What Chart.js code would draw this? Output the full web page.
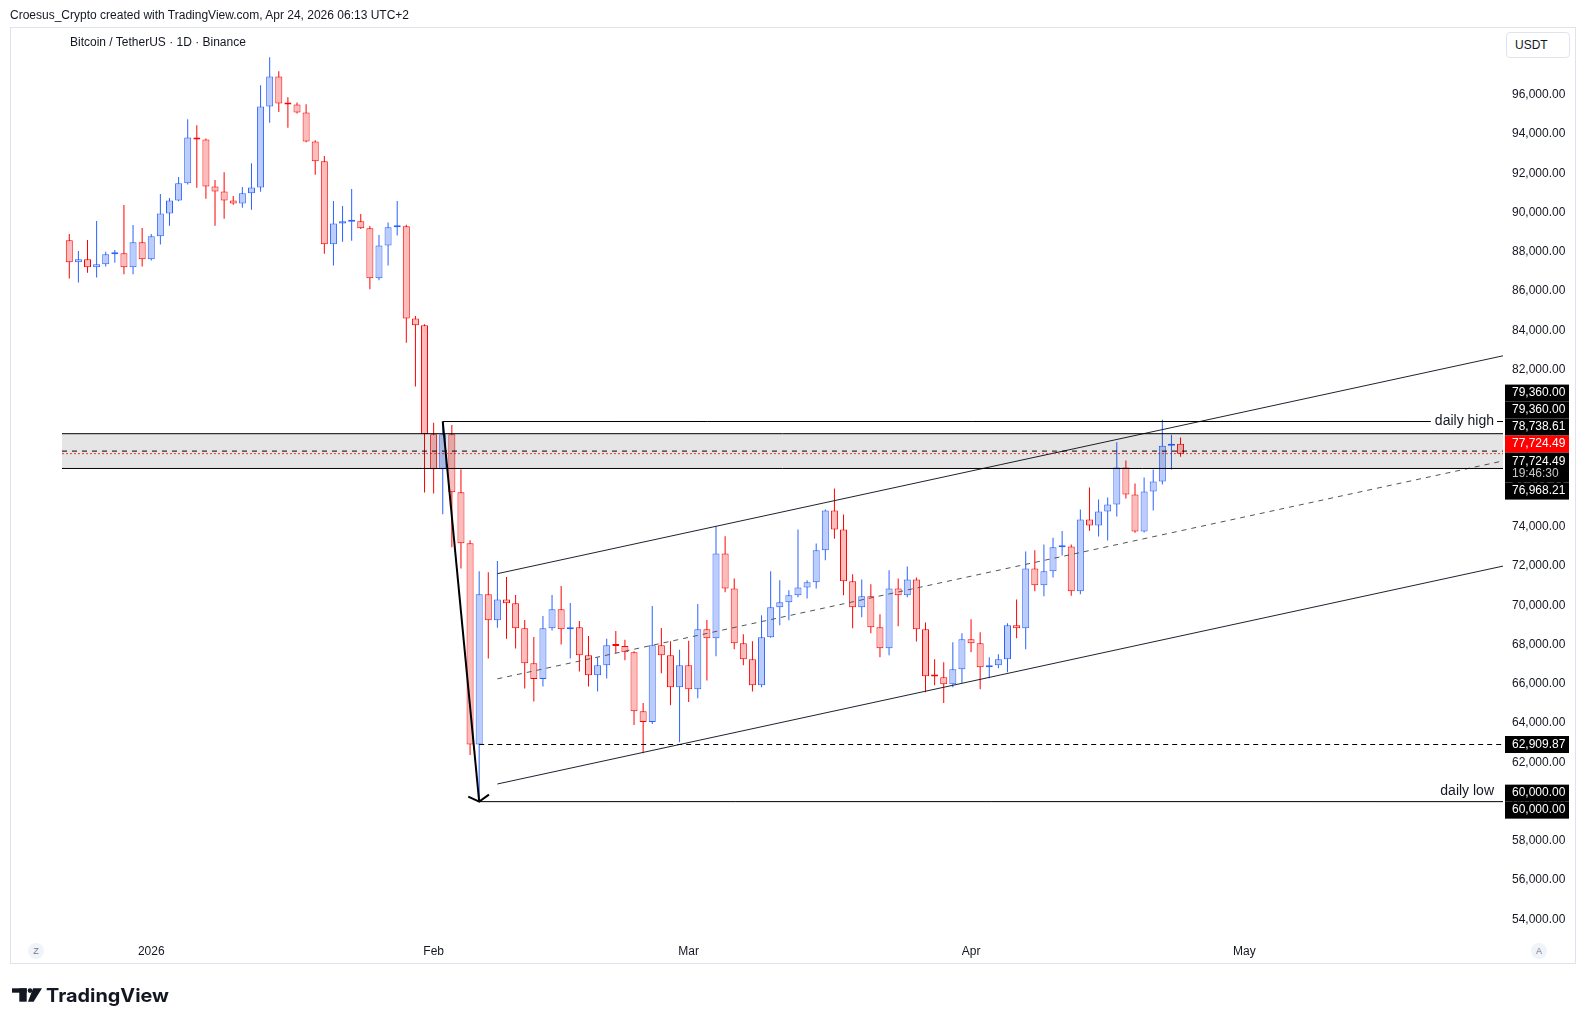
<!DOCTYPE html>
<html>
<head>
<meta charset="utf-8">
<title>Bitcoin / TetherUS 1D</title>
<script src="https://cdn.jsdelivr.net/npm/chart.js@4.4.1/dist/chart.umd.min.js"></script>
<style>
  html, body { margin:0; padding:0; background:#fff; }
  body { width:1585px; height:1025px; position:relative; overflow:hidden; font-family:"Liberation Sans", Arial, sans-serif; color:#131722; }
  #frame { position:absolute; left:10px; top:27px; width:1564px; height:935px; border:1px solid #e0e3eb; }
  #c { position:absolute; left:0; top:0; }
  .txt { position:absolute; font-size:12px; line-height:14px; white-space:nowrap; }
  #hdr { left:10px; top:8px; }
  #legend { left:70px; top:35px; }
  #usdt { position:absolute; left:1506px; top:32px; width:62px; height:24px; border:1px solid #e0e3eb; border-radius:4px; background:#fff; font-size:12px; line-height:24px; text-indent:8px; }
  .circ { position:absolute; width:16px; height:16px; border-radius:50%; background:#f0f3fa; color:#787b86; font-size:9px; line-height:16px; text-align:center; }
  #logo { position:absolute; left:0; top:975px; }
</style>
</head>
<body>
<div id="frame"></div>
<canvas id="c" width="1585" height="1025"></canvas>
<div class="txt" id="hdr">Croesus_Crypto created with TradingView.com, Apr 24, 2026 06:13 UTC+2</div>
<div class="txt" id="legend">Bitcoin / TetherUS · 1D · Binance</div>
<div id="usdt">USDT</div>
<div class="circ" style="left:28px;top:943px">Z</div>
<div class="circ" style="left:1531px;top:943px">A</div>
<svg id="logo" width="200" height="40" xmlns="http://www.w3.org/2000/svg">
  <rect x="12" y="13.3" width="14.7" height="4.4" fill="#131722"/>
  <rect x="19.3" y="13.3" width="7.4" height="13.4" fill="#131722"/>
  <circle cx="30" cy="15.6" r="2.3" fill="#131722"/>
  <polygon points="33,13.3 42,13.3 33.6,26.7 28,26.7" fill="#131722"/>
  <text x="46" y="26.7" font-family="Inter, 'Liberation Sans', sans-serif" font-weight="700" font-size="18.5" fill="#131722" textLength="123" lengthAdjust="spacingAndGlyphs">TradingView</text>
</svg>
<script>
// ---------------- data ----------------
const dates = [
  '2025-12-23','2025-12-24','2025-12-25','2025-12-26','2025-12-27','2025-12-28','2025-12-29','2025-12-30','2025-12-31',
  '2026-01-01','2026-01-02','2026-01-03','2026-01-04','2026-01-05','2026-01-06','2026-01-07','2026-01-08','2026-01-09','2026-01-10',
  '2026-01-11','2026-01-12','2026-01-13','2026-01-14','2026-01-15','2026-01-16','2026-01-17','2026-01-18','2026-01-19','2026-01-20',
  '2026-01-21','2026-01-22','2026-01-23','2026-01-24','2026-01-25','2026-01-26','2026-01-27','2026-01-28','2026-01-29','2026-01-30','2026-01-31',
  '2026-02-01','2026-02-02','2026-02-03','2026-02-04','2026-02-05','2026-02-06','2026-02-07','2026-02-08','2026-02-09','2026-02-10',
  '2026-02-11','2026-02-12','2026-02-13','2026-02-14','2026-02-15','2026-02-16','2026-02-17','2026-02-18','2026-02-19','2026-02-20',
  '2026-02-21','2026-02-22','2026-02-23','2026-02-24','2026-02-25','2026-02-26','2026-02-27','2026-02-28',
  '2026-03-01','2026-03-02','2026-03-03','2026-03-04','2026-03-05','2026-03-06','2026-03-07','2026-03-08','2026-03-09','2026-03-10',
  '2026-03-11','2026-03-12','2026-03-13','2026-03-14','2026-03-15','2026-03-16','2026-03-17','2026-03-18','2026-03-19','2026-03-20',
  '2026-03-21','2026-03-22','2026-03-23','2026-03-24','2026-03-25','2026-03-26','2026-03-27','2026-03-28','2026-03-29','2026-03-30','2026-03-31',
  '2026-04-01','2026-04-02','2026-04-03','2026-04-04','2026-04-05','2026-04-06','2026-04-07','2026-04-08','2026-04-09','2026-04-10',
  '2026-04-11','2026-04-12','2026-04-13','2026-04-14','2026-04-15','2026-04-16','2026-04-17','2026-04-18','2026-04-19','2026-04-20',
  '2026-04-21','2026-04-22','2026-04-23','2026-04-24'
];
const opens = [
  88590,87470,87620,87220,87370,87880,87930,87220,88490,87620,
  88790,89960,90620,91490,93830,93720,91330,91080,90620,90470,
  90980,91280,95400,96930,95560,95500,95100,93620,92610,88390,
  89450,89530,89560,89200,86660,88330,89250,89300,84610,84260,
  78710,76930,78710,75760,73160,62909.87,70560,69240,70300,70100,
  68830,67050,66240,68830,69800,68780,68880,67460,66440,66950,
  67960,67930,67610,64610,64050,67960,67460,65830,66950,65730,
  68780,68320,72640,70860,68070,67250,65930,68370,69900,70150,
  70510,70910,71170,72800,74830,73860,71220,69900,70460,68880,
  67810,70860,70510,71320,68780,66410,66340,65980,66740,68270,
  68070,66850,66950,67250,68980,68830,71880,71020,71730,72950,
  73000,70710,74370,74070,74780,75130,77020,75640,73760,75800,
  76300,78130,78230
];
const highs = [
  88910,88050,88600,89570,88000,88100,90390,89370,89220,88910,
  90950,90740,91810,94760,94450,93780,91660,92060,90840,91300,
  92520,96490,97910,97200,95880,95610,95520,93680,92880,90590,
  90330,91200,89930,89320,88860,89500,90590,89380,84730,84320,
  79300,79360,79180,76930,73310,71740,71680,72250,71440,70520,
  69250,68390,69460,70520,70980,70120,69200,68440,67350,68290,
  68690,68240,67660,65030,69960,68850,68170,67730,68190,70070,
  69250,74030,73520,71370,68520,68170,69490,71730,71270,70760,
  73860,71270,73150,74880,75950,74630,71580,71320,71070,69540,
  71780,71370,71980,71420,69130,67250,67100,68120,68570,69290,
  68630,67350,67510,69080,70300,72740,72800,73100,73440,73780,
  73100,74880,76000,75390,75490,78300,77370,76200,76510,76910,
  79450,78690,78540
];
const lows = [
  86640,86440,86940,86690,87250,87450,86860,86860,87250,87560,
  88370,89330,90580,91430,91270,90710,89330,89690,90400,90250,
  90150,91060,94570,95130,94320,95050,93580,91930,87910,87300,
  88520,88570,89160,86100,86560,87300,88830,83370,81140,75740,
  75690,74640,72960,71870,62380,60000,67290,68860,68300,67800,
  65760,65100,65860,68710,68000,67290,66630,65860,65610,66270,
  67560,67200,63900,62470,63950,66540,64910,63030,65070,65270,
  66170,67410,70660,67760,66950,65610,65830,68350,68980,69240,
  70410,70350,70860,72290,73390,70510,68830,69390,68570,67350,
  67460,68930,70410,68150,65570,65930,65020,65830,66030,67610,
  65730,66290,66800,66590,68320,67760,70710,70460,71420,72540,
  70490,70560,73800,73510,73300,74520,75440,73700,73710,74830,
  76150,76910,77570
];
const closes = [
  87470,87620,87220,87370,87880,87940,87220,88490,87620,88790,
  89960,90620,91490,93830,93720,91330,91080,90620,90470,90980,
  91280,95400,96930,95560,95500,95100,93620,92610,88390,89450,
  89560,89580,89200,86660,88330,89250,89300,84610,84260,78710,
  76930,78710,75760,73160,62909.87,70560,69240,70300,70100,68830,
  67050,66240,68830,69800,68780,68880,67460,66440,66950,67960,
  67930,67610,64610,64050,67960,67460,65830,66950,65730,68780,
  68320,72640,70860,68070,67250,65930,68370,69900,70150,70510,
  70910,71170,72800,74830,73860,71220,69900,70460,68880,67810,
  70860,70510,71320,68780,66390,66370,65980,66740,68270,68070,
  66850,66950,67250,68980,68830,71880,71020,71730,72950,73000,
  70710,74370,74070,74780,75130,77020,75640,73760,75800,76300,
  78130,78230,77724.49
];
const tickDates  = ['2026-01-01','2026-02-01','2026-03-01','2026-04-01','2026-05-01'];
const tickLabels = ['2026','Feb','Mar','Apr','May'];
const priceStep = 2000;

// drawn levels / lines (prices)
const zoneTop = 78738.61, zoneBottom = 76968.21;
const lastPrice = 77724.49;
const dailyHigh = 79360, dailyLow = 60000, closeLevel = 62909.87;
const swingStartDate = '2026-02-02', swingEndDate = '2026-02-06';
const channelStartDate = '2026-02-08';
const channelUpper = [71610, 82707];
const channelLower = [60899, 71997];
const channelMid   = [66255, 77352];
const highText = 'daily high', lowText = 'daily low';

// price-scale labels
const axisLabelValues = [79360, 79360, 78738.61, 77724.49, 77724.49, 76968.21, 62909.87, 60000, 60000];
const axisLabelColors = ['#000','#000','#000','#ff0000','#000','#000','#000','#000','#000'];
const axisLabelSubs   = ['','','','','19:46:30','','','',''];

// visible range (days from 2026-01-01, price)
const xView = [-9.8, 148.4];
const yView = [53208, 99402];

// ---------------- chart ----------------
const DAY = 86400000, BASE = Date.UTC(2026, 0, 1);
const dayOf = s => (Date.parse(s + 'T00:00:00Z') - BASE) / DAY;
const X = dates.map(dayOf);
const isUp = closes.map((c, i) => c >= opens[i]);
const UP = '#2962ff', UPF = '#bccdfc', DN = '#ff0000', DNF = '#fbbcbc';
const edges = isUp.map(u => u ? UP : DN);
const fills = isUp.map(u => u ? UPF : DNF);
const fmt = v => v.toLocaleString('en-US', {minimumFractionDigits: 2, maximumFractionDigits: 2});
const seg = (x0, y0, x1, y1) => [{x: x0, y: y0}, {x: x1, y: y1}];
const lineDs = (data, opts) => Object.assign({type: 'line', data, borderColor: '#000', borderWidth: 1,
  pointRadius: 0, pointHoverRadius: 0, fill: false, order: 1, tension: 0}, opts || {});

const x0 = xView[0], x1 = xView[1];
const zoneMid = (zoneTop + zoneBottom) / 2;
const cs = dayOf(channelStartDate);
const DIAG = 10;

const overlay = {
  id: 'overlay',
  afterDatasetsDraw(chart) {
    const {ctx, chartArea: a, scales: {y}} = chart;
    ctx.save();
    ctx.beginPath(); ctx.rect(a.left, a.top, a.right - a.left, a.bottom - a.top); ctx.clip();
    const m = chart.getDatasetMeta(DIAG);
    const p0 = m.data[0], p1 = m.data[1];
    const dx = p0.x - p1.x, dy = p0.y - p1.y, len = Math.hypot(dx, dy);
    const ux = dx / len, uy = dy / len, L = 12, c = Math.cos(Math.PI / 3), s = Math.sin(Math.PI / 3);
    ctx.strokeStyle = '#000'; ctx.lineWidth = 2;
    ctx.beginPath();
    ctx.moveTo(p1.x + L * (ux * c - uy * s), p1.y + L * (ux * s + uy * c));
    ctx.lineTo(p1.x, p1.y);
    ctx.lineTo(p1.x + L * (ux * c + uy * s), p1.y + L * (-ux * s + uy * c));
    ctx.stroke();
    ctx.font = '14px "Liberation Sans", Arial, sans-serif';
    ctx.textAlign = 'right'; ctx.textBaseline = 'middle';
    const tx = a.right - 9;
    const yh = y.getPixelForValue(dailyHigh);
    const wh = ctx.measureText(highText).width;
    ctx.fillStyle = '#fff'; ctx.fillRect(tx - wh - 4, yh - 2, wh + 7, 4);
    ctx.fillStyle = '#131722'; ctx.fillText(highText, tx, yh);
    ctx.fillText(lowText, tx, y.getPixelForValue(dailyLow) - 11);
    ctx.restore();
  },
  afterDraw(chart) {
    const {ctx, scales: {y}} = chart;
    const items = axisLabelValues.map((v, i) => ({v, i, want: y.getPixelForValue(v), h: axisLabelSubs[i] ? 30 : 17}));
    items.sort((p, q) => (p.want - q.want) || (p.i - q.i));
    const blocks = items.map(it => ({items: [it]}));
    const place = b => {
      let h = 0, s = 0;
      b.items.forEach(it => { s += it.want; h += it.h; });
      b.h = h; b.top = s / b.items.length - h / 2;
    };
    blocks.forEach(place);
    for (let k = 0; k < blocks.length - 1;) {
      if (blocks[k].top + blocks[k].h > blocks[k + 1].top + 0.01) {
        blocks[k].items = blocks[k].items.concat(blocks[k + 1].items);
        blocks.splice(k + 1, 1); place(blocks[k]); k = Math.max(0, k - 1);
      } else k++;
    }
    ctx.save();
    ctx.font = '12px "Liberation Sans", Arial, sans-serif';
    ctx.textAlign = 'left'; ctx.textBaseline = 'middle';
    blocks.forEach(b => {
      let t = b.top;
      b.items.forEach(it => {
        ctx.fillStyle = axisLabelColors[it.i];
        ctx.fillRect(y.left + 2, t, 64, it.h);
        ctx.fillStyle = '#fff';
        ctx.fillText(fmt(it.v), y.left + 9, t + (it.h > 17 ? 9 : 8.5));
        if (axisLabelSubs[it.i]) { ctx.fillStyle = '#c8c8c8'; ctx.fillText(axisLabelSubs[it.i], y.left + 9, t + 21.5); }
        t += it.h;
      });
    });
    ctx.restore();
  }
};

Chart.defaults.font.family = '"Liberation Sans", Arial, sans-serif';
Chart.defaults.font.size = 12;
Chart.defaults.color = '#131722';

new Chart(document.getElementById('c'), {
  type: 'bar',
  data: {
    datasets: [
      lineDs(seg(x0, zoneTop, x1, zoneTop), {fill: '+1', backgroundColor: 'rgba(0,0,0,0.1)'}),
      lineDs(seg(x0, zoneBottom, x1, zoneBottom)),
      lineDs(seg(x0, zoneMid, x1, zoneMid), {borderDash: [5, 5]}),
      lineDs(seg(x0, lastPrice, x1, lastPrice), {borderColor: 'rgba(255,0,0,0.75)', borderDash: [2, 2]}),
      lineDs(seg(dayOf(swingStartDate), dailyHigh, x1, dailyHigh)),
      lineDs(seg(dayOf(swingEndDate), dailyLow, x1, dailyLow)),
      lineDs(seg(dayOf(swingEndDate), closeLevel, x1, closeLevel), {borderDash: [5, 4]}),
      lineDs(seg(cs, channelUpper[0], x1, channelUpper[1]), {borderColor: '#1e222d'}),
      lineDs(seg(cs, channelLower[0], x1, channelLower[1]), {borderColor: '#1e222d'}),
      lineDs(seg(cs, channelMid[0], x1, channelMid[1]), {borderColor: '#555', borderDash: [5, 5]}),
      lineDs(seg(dayOf(swingStartDate), dailyHigh, dayOf(swingEndDate), dailyLow), {borderWidth: 2}),
      { type: 'bar', data: X.map((x, i) => ({x, y: [opens[i], closes[i]]})),
        backgroundColor: fills, borderColor: edges, borderWidth: 1, borderSkipped: false,
        barThickness: 7, minBarLength: 2, grouped: false, inflateAmount: 0, order: 2 },
      { type: 'bar', data: X.map((x, i) => ({x, y: [lows[i], highs[i]]})),
        backgroundColor: edges, borderWidth: 0, barThickness: 1, grouped: false, inflateAmount: 0, order: 3 }
    ]
  },
  options: {
    responsive: false,
    devicePixelRatio: 1,
    animation: false,
    events: [],
    layout: { padding: { left: 62, top: 28, right: 10, bottom: 62 } },
    plugins: { legend: { display: false }, tooltip: { enabled: false } },
    scales: {
      x: {
        type: 'linear', min: xView[0], max: xView[1], offset: false,
        grid: { display: false, drawTicks: false }, border: { display: false },
        afterBuildTicks: ax => { ax.ticks = tickDates.map(d => ({value: dayOf(d)})); },
        afterFit: ax => { ax.height = 28; },
        ticks: { autoSkip: false, maxRotation: 0, padding: 9, color: '#131722',
          callback: (v, i) => tickLabels[i] }
      },
      y: {
        type: 'linear', position: 'right', min: yView[0], max: yView[1],
        grid: { display: false, drawTicks: false }, border: { display: false },
        afterBuildTicks: ax => {
          const t = [];
          for (let v = Math.ceil(yView[0] / priceStep) * priceStep; v <= yView[1]; v += priceStep) t.push({value: v});
          ax.ticks = t;
        },
        afterFit: ax => { ax.width = 72; },
        ticks: { autoSkip: false, padding: 9, color: '#131722',
          callback: v => (v > yView[1] - 1500 ? '' : fmt(v)) }
      }
    }
  },
  plugins: [overlay]
});
</script>
</body>
</html>
